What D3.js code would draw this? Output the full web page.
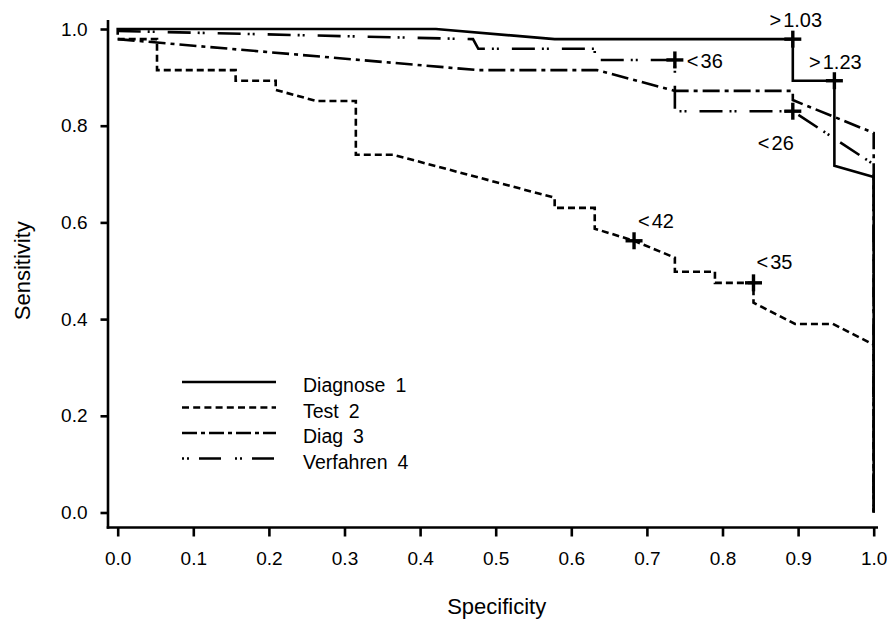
<!DOCTYPE html>
<html>
<head>
<meta charset="utf-8">
<script src="https://cdn.jsdelivr.net/npm/d3@7/dist/d3.min.js"></script>
<style>
  html, body { margin: 0; padding: 0; background: #fff; }
  svg { display: block; }
  text { font-family: "Liberation Sans", Arial, Helvetica, sans-serif; fill: #000; }
</style>
</head>
<body>
<svg id="chart" width="887" height="626"></svg>
<script>
// ---------------- data ----------------
const seriesNames = ["Diagnose 1", "Test 2", "Diag 3", "Verfahren 4"];

const diag1Spec = [0, 0, 0.421, 0.578, 0.893, 0.893, 0.948, 0.948, 1.0, 1.0];
const diag1Sens = [0.988, 1.0, 1.0, 0.979, 0.979, 0.893, 0.893, 0.717, 0.694, 0];

const test2Spec = [0, 0.052, 0.052, 0.156, 0.156, 0.209, 0.209, 0.263, 0.315, 0.315, 0.364, 0.578, 0.578,
                   0.631, 0.631, 0.683, 0.737, 0.737, 0.790, 0.790, 0.841, 0.841, 0.896, 0.946, 1.0, 1.0];
const test2Sens = [0.979, 0.979, 0.915, 0.915, 0.893, 0.893, 0.874, 0.851, 0.851, 0.740, 0.740, 0.651, 0.630,
                   0.630, 0.587, 0.562, 0.527, 0.498, 0.498, 0.475, 0.475, 0.434, 0.390, 0.390, 0.347, 0];

const diag3Spec = [0, 0.476, 0.634, 0.737, 0.893, 0.893, 1.0, 1.0];
const diag3Sens = [0.979, 0.915, 0.915, 0.872, 0.872, 0.853, 0.785, 0];

const verf4Spec = [0, 0.470, 0.477, 0.631, 0.631, 0.737, 0.737, 0.893, 1.0, 1.0];
const verf4Sens = [0.996, 0.979, 0.959, 0.959, 0.936, 0.936, 0.830, 0.830, 0.720, 0];

// cut-off markers
const markerSeries = [0, 0, 1, 1, 3, 3];
const markerSpec   = [0.893, 0.948, 0.683, 0.841, 0.737, 0.893];
const markerSens   = [0.979, 0.893, 0.562, 0.475, 0.936, 0.830];
const markerLabels = [">1.03", ">1.23", "<42", "<35", "<36", "<26"];

const xTickValues = [0, 0.1, 0.2, 0.3, 0.4, 0.5, 0.6, 0.7, 0.8, 0.9, 1.0];
const yTickValues = [0, 0.2, 0.4, 0.6, 0.8, 1.0];
const xTitle = "Specificity";
const yTitle = "Sensitivity";

// ---------------- layout / style ----------------
const dashes = [null, "7,4", "17,5,4,5", "23,7,2,3,2,13"];
const legendDashes = [null, "7,4.2", "15,4,4,4", "2,3,2,10,22,14,2,3,2,10,22"];
// label offsets relative to marker centre: [dx, dy, anchor]
const labelPlace = [[3, -19, "middle"], [1, -19, "middle"], [4, -20, "start"], [3, -21, "start"], [12, 1, "start"], [-17, 32, "middle"]];

const svg = d3.select("#chart");
const x = d3.scaleLinear().domain([0, 1]).range([117.7, 873.7]);
const y = d3.scaleLinear().domain([0, 1]).range([512.5, 29]);

const axisX = 108, axisY = 527.5;
const lw = 2.6;

// axes lines
svg.append("line").attr("x1", axisX).attr("x2", axisX).attr("y1", 20).attr("y2", axisY + lw / 2)
  .attr("stroke", "#000").attr("stroke-width", lw);
svg.append("line").attr("x1", axisX - lw / 2).attr("x2", 878).attr("y1", axisY).attr("y2", axisY)
  .attr("stroke", "#000").attr("stroke-width", lw);

// x axis via d3
const gx = svg.append("g").attr("transform", `translate(0,${axisY})`)
  .call(d3.axisBottom(x).tickValues(xTickValues).tickFormat(d3.format(".1f")).tickSize(9).tickPadding(15));
gx.select(".domain").remove();
gx.selectAll(".tick line").attr("stroke", "#000").attr("stroke-width", lw);
gx.selectAll(".tick text").attr("font-size", 19).attr("font-family", "Liberation Sans, Arial, sans-serif");

const gy = svg.append("g").attr("transform", `translate(${axisX},0)`)
  .call(d3.axisLeft(y).tickValues(yTickValues).tickFormat(d3.format(".1f")).tickSize(7.5).tickPadding(13));
gy.select(".domain").remove();
gy.selectAll(".tick line").attr("stroke", "#000").attr("stroke-width", lw);
gy.selectAll(".tick text").attr("font-size", 19).attr("font-family", "Liberation Sans, Arial, sans-serif");

// titles
svg.append("text").attr("x", x(0.5) + 1).attr("y", 614).attr("text-anchor", "middle")
  .attr("font-size", 22).text(xTitle);
svg.append("text").attr("transform", `translate(30,${y(0.5)}) rotate(-90)`).attr("text-anchor", "middle")
  .attr("font-size", 22).text(yTitle);

// curves
const curves = [
  d3.zip(diag1Spec, diag1Sens),
  d3.zip(test2Spec, test2Sens),
  d3.zip(diag3Spec, diag3Sens),
  d3.zip(verf4Spec, verf4Sens)
];
const line = d3.line().x(d => x(d[0])).y(d => y(d[1]));
// draw dashed ones first, solid last
[3, 2, 1, 0].forEach(i => {
  svg.append("path").attr("d", line(curves[i]))
    .attr("fill", "none").attr("stroke", "#000").attr("stroke-width", lw)
    .attr("stroke-linejoin", "miter")
    .attr("stroke-dasharray", dashes[i]);
});

// markers
const cs = 8.5;
markerSpec.forEach((s, i) => {
  const cx = x(s), cy = y(markerSens[i]);
  svg.append("line").attr("x1", cx - cs).attr("x2", cx + cs).attr("y1", cy).attr("y2", cy)
    .attr("stroke", "#000").attr("stroke-width", 3.4);
  svg.append("line").attr("x1", cx).attr("x2", cx).attr("y1", cy - cs).attr("y2", cy + cs)
    .attr("stroke", "#000").attr("stroke-width", 3.4);
  const p = labelPlace[i];
  const lab = markerLabels[i];
  const t = svg.append("text").attr("x", cx + p[0]).attr("y", cy + p[1]).attr("text-anchor", p[2])
    .attr("dominant-baseline", "central").attr("font-size", 20);
  t.append("tspan").text(lab.charAt(0));
  t.append("tspan").attr("dx", 2).text(lab.slice(1));
});

// legend
seriesNames.forEach((name, i) => {
  const ly = 382 + i * 25.5;
  svg.append("line").attr("x1", 182).attr("x2", 276).attr("y1", ly).attr("y2", ly)
    .attr("stroke", "#000").attr("stroke-width", lw)
    .attr("stroke-dasharray", legendDashes[i]);
  const parts = name.split(" ");
  const t = svg.append("text").attr("x", 303).attr("y", ly + 3).attr("dominant-baseline", "central")
    .attr("font-size", 19.5);
  t.append("tspan").text(parts[0]);
  t.append("tspan").attr("dx", 10).text(parts[1]);
});
</script>
</body>
</html>
